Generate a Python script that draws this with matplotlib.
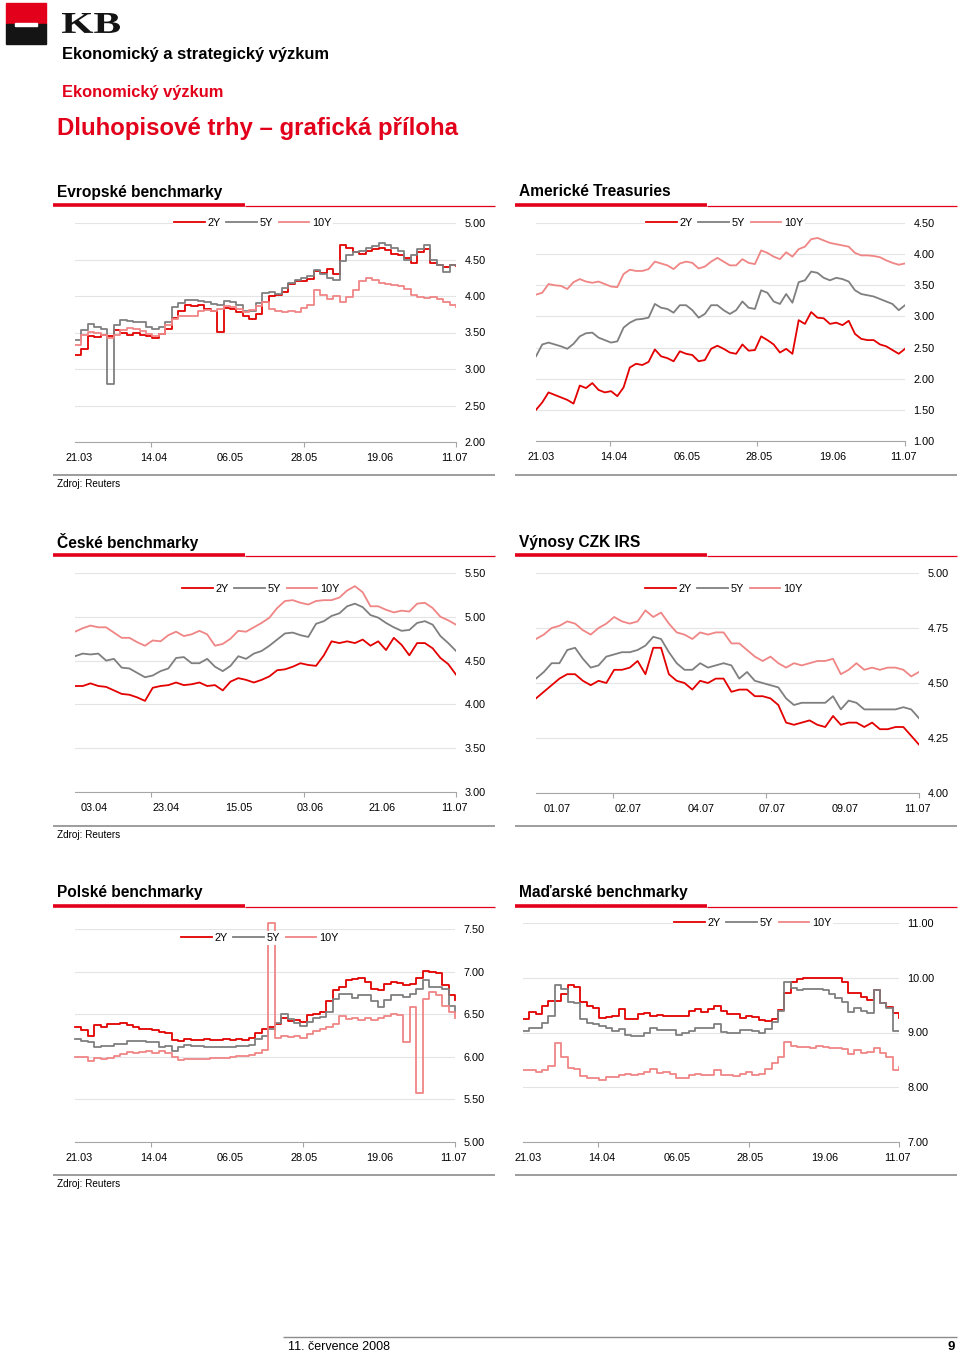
import numpy as np
import matplotlib.pyplot as plt
from matplotlib.patches import Rectangle, PathPatch
from matplotlib.lines import Line2D
from matplotlib.textpath import TextPath
from matplotlib.font_manager import FontProperties
from matplotlib.transforms import Affine2D

plt.rcParams['font.family'] = ['Liberation Sans', 'DejaVu Sans']

# --- data ---
series_names = ['2Y', '5Y', '10Y']
dates_main = ['21.03', '14.04', '06.05', '28.05', '19.06', '11.07']
dates_cz = ['03.04', '23.04', '15.05', '03.06', '21.06', '11.07']
dates_irs = ['01.07', '02.07', '04.07', '07.07', '09.07', '11.07']

eu_2y = [3.19, 3.28, 3.45, 3.44, 3.46, 3.45, 3.53, 3.50, 3.47, 3.49, 3.46, 3.45, 3.42, 3.48, 3.55,
         3.70, 3.80, 3.88, 3.86, 3.87, 3.82, 3.80, 3.51, 3.84, 3.82, 3.78, 3.72, 3.69, 3.76, 3.92,
         4.00, 4.02, 4.05, 4.17, 4.20, 4.21, 4.23, 4.34, 4.31, 4.37, 4.30, 4.70, 4.66, 4.60, 4.58,
         4.62, 4.65, 4.66, 4.63, 4.57, 4.56, 4.52, 4.45, 4.60, 4.65, 4.45, 4.43, 4.40, 4.42, 4.41]
eu_5y = [3.40, 3.54, 3.62, 3.58, 3.55, 2.80, 3.60, 3.67, 3.66, 3.65, 3.64, 3.58, 3.55, 3.58, 3.64,
         3.85, 3.90, 3.94, 3.95, 3.93, 3.92, 3.89, 3.88, 3.93, 3.92, 3.88, 3.79, 3.80, 3.90, 4.04,
         4.05, 4.03, 4.11, 4.18, 4.22, 4.25, 4.27, 4.35, 4.30, 4.24, 4.22, 4.48, 4.56, 4.60, 4.62,
         4.66, 4.69, 4.72, 4.70, 4.66, 4.62, 4.50, 4.56, 4.64, 4.70, 4.50, 4.42, 4.33, 4.42, 4.43]
eu_10y = [3.33, 3.47, 3.51, 3.49, 3.47, 3.43, 3.47, 3.54, 3.56, 3.55, 3.52, 3.48, 3.45, 3.48, 3.60,
          3.68, 3.72, 3.73, 3.72, 3.79, 3.81, 3.80, 3.82, 3.86, 3.85, 3.82, 3.78, 3.81, 3.86, 3.92,
          3.82, 3.80, 3.78, 3.80, 3.78, 3.84, 3.88, 4.08, 4.02, 3.96, 4.00, 3.92, 3.98, 4.08, 4.20,
          4.25, 4.22, 4.18, 4.16, 4.15, 4.14, 4.10, 4.02, 3.98, 3.97, 3.99, 3.96, 3.92, 3.88, 3.85]

us_2y = [1.50, 1.62, 1.78, 1.74, 1.70, 1.66, 1.60, 1.89, 1.85, 1.93, 1.82, 1.78, 1.80, 1.72, 1.86,
         2.18, 2.24, 2.22, 2.27, 2.47, 2.36, 2.33, 2.28, 2.44, 2.40, 2.38, 2.28, 2.30, 2.48, 2.53,
         2.48, 2.42, 2.40, 2.55, 2.45, 2.46, 2.68, 2.62, 2.55, 2.42, 2.48, 2.40, 2.94, 2.88, 3.07,
         2.98, 2.97, 2.88, 2.90, 2.86, 2.93, 2.72, 2.64, 2.62, 2.62, 2.55, 2.52, 2.46, 2.40, 2.48]
us_5y = [2.36, 2.55, 2.58, 2.55, 2.52, 2.48, 2.56, 2.68, 2.73, 2.74, 2.66, 2.62, 2.58, 2.60, 2.82,
         2.90, 2.95, 2.96, 2.98, 3.20, 3.14, 3.12, 3.06, 3.18, 3.18, 3.10, 2.98, 3.04, 3.18, 3.18,
         3.10, 3.04, 3.10, 3.24, 3.14, 3.12, 3.42, 3.38, 3.24, 3.20, 3.36, 3.22, 3.55, 3.58, 3.72,
         3.70, 3.62, 3.58, 3.62, 3.60, 3.56, 3.42, 3.36, 3.34, 3.32, 3.28, 3.24, 3.20, 3.10, 3.18]
us_10y = [3.35, 3.38, 3.52, 3.50, 3.49, 3.44, 3.55, 3.60, 3.56, 3.54, 3.56, 3.52, 3.48, 3.47, 3.68,
          3.75, 3.73, 3.73, 3.76, 3.88, 3.85, 3.82, 3.76, 3.85, 3.88, 3.86, 3.77, 3.80, 3.88, 3.94,
          3.88, 3.82, 3.82, 3.92, 3.86, 3.84, 4.06, 4.02, 3.96, 3.92, 4.03, 3.96, 4.08, 4.12, 4.24,
          4.26, 4.22, 4.18, 4.16, 4.14, 4.12, 4.02, 3.98, 3.98, 3.97, 3.95, 3.90, 3.86, 3.83, 3.85]

cz_2y = [4.21, 4.21, 4.24, 4.21, 4.20, 4.16, 4.12, 4.11, 4.08, 4.04, 4.19, 4.21, 4.22, 4.25, 4.22,
         4.23, 4.25, 4.21, 4.22, 4.16, 4.26, 4.30, 4.28, 4.25, 4.28, 4.32, 4.39, 4.40, 4.43, 4.47,
         4.45, 4.44, 4.56, 4.72, 4.70, 4.72, 4.70, 4.74, 4.67, 4.72, 4.62, 4.76, 4.68, 4.56, 4.70,
         4.70, 4.64, 4.53, 4.46, 4.34]
cz_5y = [4.55, 4.58, 4.57, 4.58, 4.50, 4.52, 4.42, 4.41, 4.36, 4.31, 4.33, 4.38, 4.41, 4.53, 4.54,
         4.47, 4.47, 4.52, 4.43, 4.38, 4.44, 4.55, 4.52, 4.58, 4.61, 4.67, 4.74, 4.81, 4.82, 4.79,
         4.77, 4.92, 4.95, 5.01, 5.04, 5.12, 5.15, 5.11, 5.02, 4.99, 4.93, 4.88, 4.84, 4.85, 4.93,
         4.95, 4.91, 4.78, 4.70, 4.61]
cz_10y = [4.83, 4.87, 4.90, 4.88, 4.88, 4.82, 4.76, 4.76, 4.71, 4.67, 4.73, 4.72, 4.79, 4.83, 4.78,
          4.80, 4.84, 4.80, 4.67, 4.69, 4.75, 4.84, 4.83, 4.88, 4.93, 4.99, 5.10, 5.18, 5.19, 5.16,
          5.14, 5.18, 5.19, 5.19, 5.22, 5.30, 5.35, 5.28, 5.12, 5.12, 5.08, 5.05, 5.07, 5.06, 5.15,
          5.16, 5.10, 5.00, 4.96, 4.91]

irs_2y = [4.43, 4.46, 4.49, 4.52, 4.54, 4.54, 4.51, 4.49, 4.51, 4.50, 4.56, 4.56, 4.57, 4.60, 4.54,
          4.66, 4.66, 4.54, 4.51, 4.50, 4.47, 4.51, 4.50, 4.52, 4.52, 4.46, 4.47, 4.47, 4.44, 4.44,
          4.43, 4.40, 4.32, 4.31, 4.32, 4.33, 4.31, 4.30, 4.35, 4.31, 4.32, 4.32, 4.30, 4.32, 4.29,
          4.29, 4.30, 4.30, 4.26, 4.22]
irs_5y = [4.52, 4.55, 4.59, 4.59, 4.65, 4.66, 4.61, 4.57, 4.58, 4.62, 4.63, 4.64, 4.64, 4.65, 4.67,
          4.71, 4.70, 4.64, 4.59, 4.56, 4.56, 4.59, 4.57, 4.58, 4.59, 4.58, 4.52, 4.55, 4.51, 4.50,
          4.49, 4.48, 4.43, 4.40, 4.41, 4.41, 4.41, 4.41, 4.44, 4.38, 4.42, 4.41, 4.38, 4.38, 4.38,
          4.38, 4.38, 4.39, 4.38, 4.34]
irs_10y = [4.70, 4.72, 4.75, 4.76, 4.78, 4.77, 4.74, 4.72, 4.75, 4.77, 4.80, 4.78, 4.77, 4.78, 4.83,
           4.80, 4.82, 4.77, 4.73, 4.72, 4.70, 4.73, 4.72, 4.73, 4.73, 4.68, 4.68, 4.65, 4.62, 4.60,
           4.62, 4.59, 4.57, 4.59, 4.58, 4.59, 4.60, 4.60, 4.61, 4.54, 4.56, 4.59, 4.56, 4.57, 4.56,
           4.57, 4.57, 4.56, 4.53, 4.55]

pl_2y = [6.35, 6.31, 6.25, 6.37, 6.35, 6.38, 6.39, 6.40, 6.37, 6.35, 6.33, 6.33, 6.31, 6.29, 6.28,
         6.20, 6.19, 6.21, 6.20, 6.20, 6.21, 6.20, 6.20, 6.21, 6.20, 6.21, 6.20, 6.22, 6.28, 6.33,
         6.35, 6.38, 6.46, 6.42, 6.43, 6.41, 6.49, 6.50, 6.53, 6.65, 6.78, 6.82, 6.90, 6.91, 6.92,
         6.88, 6.80, 6.78, 6.86, 6.88, 6.87, 6.84, 6.86, 6.92, 7.01, 7.00, 6.98, 6.84, 6.73, 6.67]
pl_5y = [6.21, 6.19, 6.17, 6.11, 6.13, 6.13, 6.15, 6.15, 6.19, 6.19, 6.18, 6.17, 6.17, 6.11, 6.13,
         6.07, 6.12, 6.14, 6.13, 6.13, 6.12, 6.11, 6.11, 6.11, 6.12, 6.13, 6.13, 6.14, 6.21, 6.25,
         6.33, 6.40, 6.50, 6.44, 6.40, 6.36, 6.41, 6.45, 6.47, 6.53, 6.68, 6.74, 6.74, 6.69, 6.72,
         6.73, 6.66, 6.58, 6.67, 6.72, 6.72, 6.70, 6.74, 6.80, 6.90, 6.82, 6.82, 6.80, 6.60, 6.52]
pl_10y = [6.00, 6.00, 5.95, 5.99, 5.98, 5.99, 6.01, 6.03, 6.06, 6.05, 6.06, 6.07, 6.04, 6.07, 6.04,
          6.00, 5.96, 5.97, 5.97, 5.98, 5.98, 5.99, 5.99, 5.99, 6.00, 6.01, 6.01, 6.02, 6.04, 6.08,
          7.57, 6.22, 6.24, 6.23, 6.24, 6.22, 6.27, 6.30, 6.33, 6.35, 6.39, 6.48, 6.44, 6.45, 6.43,
          6.45, 6.43, 6.45, 6.48, 6.50, 6.49, 6.17, 6.58, 5.58, 6.68, 6.76, 6.73, 6.60, 6.52, 6.46]

hu_2y = [9.24, 9.38, 9.33, 9.48, 9.58, 9.58, 9.70, 9.87, 9.83, 9.56, 9.49, 9.45, 9.27, 9.28, 9.30,
         9.43, 9.24, 9.24, 9.33, 9.36, 9.30, 9.32, 9.31, 9.31, 9.31, 9.31, 9.40, 9.43, 9.38, 9.43,
         9.49, 9.40, 9.33, 9.33, 9.27, 9.30, 9.28, 9.23, 9.21, 9.24, 9.42, 9.73, 9.92, 9.98, 10.00,
         10.00, 10.00, 10.00, 10.00, 10.00, 9.92, 9.73, 9.73, 9.64, 9.60, 9.77, 9.53, 9.47, 9.36, 9.26]
hu_5y = [9.02, 9.09, 9.08, 9.18, 9.30, 9.86, 9.80, 9.55, 9.53, 9.24, 9.17, 9.15, 9.11, 9.09, 9.03,
         9.06, 8.96, 8.93, 8.93, 9.00, 9.08, 9.05, 9.04, 9.04, 8.96, 8.99, 9.02, 9.09, 9.09, 9.09,
         9.15, 9.01, 9.00, 9.00, 9.04, 9.04, 9.03, 9.00, 9.06, 9.20, 9.40, 9.92, 9.82, 9.78, 9.80,
         9.80, 9.80, 9.78, 9.70, 9.63, 9.55, 9.38, 9.44, 9.40, 9.36, 9.77, 9.53, 9.45, 9.03, 9.03]
hu_10y = [8.31, 8.31, 8.28, 8.31, 8.38, 8.81, 8.56, 8.35, 8.33, 8.20, 8.16, 8.16, 8.14, 8.18, 8.18,
          8.22, 8.24, 8.22, 8.24, 8.28, 8.33, 8.26, 8.27, 8.25, 8.16, 8.17, 8.22, 8.25, 8.22, 8.22,
          8.31, 8.22, 8.22, 8.20, 8.24, 8.27, 8.22, 8.25, 8.33, 8.44, 8.56, 8.82, 8.76, 8.73, 8.74,
          8.72, 8.75, 8.73, 8.71, 8.71, 8.70, 8.60, 8.68, 8.62, 8.65, 8.72, 8.62, 8.55, 8.32, 8.37]

# --- styling ---
W, H = 960, 1354
RED = '#E2001A'
COLORS = ['#E30000', '#7F7F7F', '#F08585']
GRID = '#E4E4E4'
AXIS = '#A6A6A6'

fig = plt.figure(figsize=(W / 100, H / 100), dpi=100)


def fx(x):
    return x / W


def fy(y):
    return 1 - y / H


def txt(x, y, s, **kw):
    fig.text(fx(x), fy(y), s, va='center', **kw)


def hline(x0, x1, y, color, lw):
    fig.add_artist(Line2D([fx(x0), fx(x1)], [fy(y), fy(y)], color=color, lw=lw,
                          transform=fig.transFigure, solid_capstyle='butt'))


def section(x0, y_title, y_line, y_bottom, title, source=True):
    txt(x0 + 4, y_title, title, fontsize=11.2, fontweight='bold', color='black')
    hline(x0, x0 + 192, y_line, RED, 2.6)
    hline(x0 + 192, x0 + 442, y_line + 0.5, RED, 0.9)
    hline(x0, x0 + 442, y_bottom, '#8C8C8C', 1.2)
    if source:
        txt(x0 + 4, y_bottom + 9, 'Zdroj: Reuters', fontsize=7.2)


def chart(box, ylim, ystep, data, ticklabels, tickpos, legend_xy, steps=False, clip=True):
    left, top, right, bottom = box
    ax = fig.add_axes([fx(left), fy(bottom), (right - left) / W, (bottom - top) / H])
    ds = 'steps-post' if steps else 'default'
    for vals, name, col in zip(data, series_names, COLORS):
        x = np.linspace(0, 1, len(vals))
        ax.plot(x, vals, color=col, lw=1.3, label=name, drawstyle=ds, clip_on=clip)
    ax.set_xlim(0, 1)
    ax.set_ylim(*ylim)
    ax.set_yticks(np.arange(ylim[0], ylim[1] + 1e-9, ystep))
    ax.yaxis.set_major_formatter(plt.FormatStrFormatter('%.2f'))
    ax.yaxis.tick_right()
    ax.tick_params(axis='y', length=0, pad=6, labelsize=7.8)
    ax.yaxis.grid(True, color=GRID, lw=0.8)
    ax.set_axisbelow(True)
    ax.set_xticks(tickpos)
    ax.set_xticklabels(ticklabels)
    ax.set_xticks([0.2, 0.6, 1.0], minor=True)
    ax.tick_params(axis='x', which='major', length=0, pad=8, labelsize=7.8)
    ax.tick_params(axis='x', which='minor', length=3.5, color=AXIS, width=0.8)
    for s in ['left', 'right', 'top']:
        ax.spines[s].set_visible(False)
    ax.spines['bottom'].set_color(AXIS)
    ax.spines['bottom'].set_linewidth(0.8)
    ax.patch.set_alpha(0)
    ax.legend(loc='center', bbox_to_anchor=(fx(legend_xy[0]), fy(legend_xy[1])),
              bbox_transform=fig.transFigure, ncol=3, frameon=True, facecolor='white',
              edgecolor='none', framealpha=1, fontsize=7.8, handlelength=2.8,
              handletextpad=0.3, columnspacing=0.5, borderpad=0.15, borderaxespad=0)
    return ax


# --- page header: logo ---
fig.add_artist(Rectangle((fx(6), fy(24)), 40 / W, 21 / H, color=RED, transform=fig.transFigure))
fig.add_artist(Rectangle((fx(6), fy(44)), 40 / W, 20 / H, color='#141414', transform=fig.transFigure))
fig.add_artist(Rectangle((fx(15), fy(26)), 22 / W, 3 / H, color='white', transform=fig.transFigure))
kb = TextPath((0, 0), 'KB', size=1, prop=FontProperties(family='Liberation Serif', weight='bold'))
ext = kb.get_extents()
sx = (120 - 62) / ext.width
sy = (33 - 13) / ext.height
kb_tr = (Affine2D().translate(-ext.x0, -ext.y0).scale(sx / W, sy / H)
         .translate(fx(62), fy(33)) + fig.transFigure)
fig.add_artist(PathPatch(kb, transform=kb_tr, color='#141414', lw=0))

txt(62, 54, 'Ekonomický a strategický výzkum', fontsize=11.9, fontweight='bold')
txt(62, 92, 'Ekonomický výzkum', fontsize=11.8, fontweight='bold', color=RED)
txt(57, 128, 'Dluhopisové trhy – grafická příloha', fontsize=17.3, fontweight='bold', color=RED)

# --- row 1 ---
section(53, 192, 205, 475, 'Evropské benchmarky')
section(515, 192, 205, 475, 'Americké Treasuries', source=False)
chart((75, 223, 456, 442), (2, 5), 0.5, [eu_2y, eu_5y, eu_10y], dates_main,
      [0.011, 0.207, 0.407, 0.601, 0.80, 0.997], (253, 223), steps=True)
chart((536, 223, 905, 441), (1, 4.5), 0.5, [us_2y, us_5y, us_10y], dates_main,
      [0.014, 0.211, 0.409, 0.604, 0.805, 0.997], (725, 223))

# --- row 2 ---
section(53, 542, 555, 826, 'České benchmarky')
section(515, 542, 555, 826, 'Výnosy CZK IRS', source=False)
chart((75, 573, 456, 792), (3, 5.5), 0.5, [cz_2y, cz_5y, cz_10y], dates_cz,
      [0.05, 0.239, 0.43, 0.617, 0.806, 0.997], (261, 589))
chart((536, 573, 919, 793), (4, 5), 0.25, [irs_2y, irs_5y, irs_10y], dates_irs,
      [0.055, 0.24, 0.431, 0.616, 0.807, 0.997], (724, 589))

# --- row 3 ---
section(53, 892, 906, 1175, 'Polské benchmarky')
section(515, 892, 906, 1175, 'Maďarské benchmarky', source=False)
chart((75, 929, 455, 1142), (5, 7.5), 0.5, [pl_2y, pl_5y, pl_10y], dates_main,
      [0.011, 0.208, 0.408, 0.603, 0.803, 0.997], (260, 938), steps=True, clip=False)
chart((523, 923, 899, 1142), (7, 11), 1.0, [hu_2y, hu_5y, hu_10y], dates_main,
      [0.013, 0.21, 0.41, 0.605, 0.803, 0.997], (753, 923), steps=True)

# --- footer ---
hline(283, 957, 1336.5, '#8C8C8C', 1.0)
txt(288, 1347, '11. července 2008', fontsize=9.0)
fig.text(fx(955), fy(1347), '9', va='center', ha='right', fontsize=9.5, fontweight='bold')

fig.savefig('out.png', dpi=100)
